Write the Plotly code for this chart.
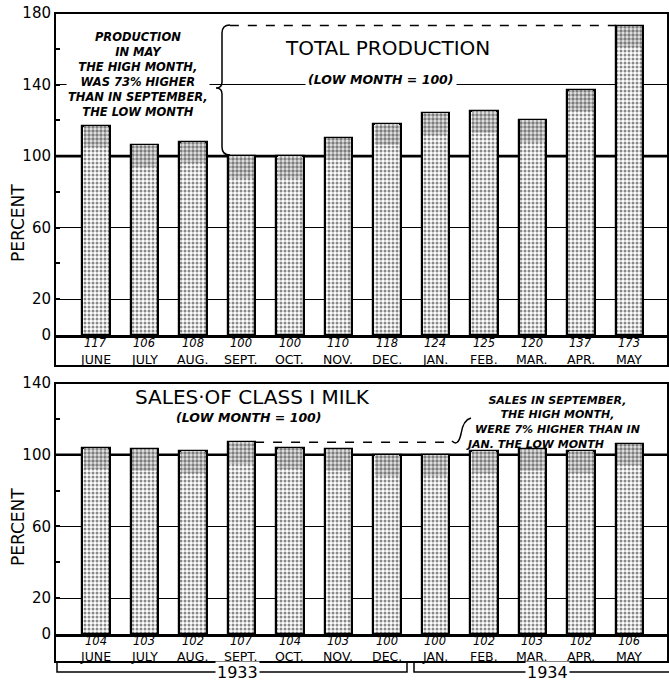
import plotly.graph_objects as go

# ---------------- data ----------------
months = ["JUNE", "JULY", "AUG.", "SEPT.", "OCT.", "NOV.", "DEC.", "JAN.", "FEB.", "MAR.", "APR.", "MAY"]
production = [117, 106, 108, 100, 100, 110, 118, 124, 125, 120, 137, 173]
sales = [104, 103, 102, 107, 104, 103, 100, 100, 102, 103, 102, 106]
prod_ticks = [0, 20, 60, 100, 140, 180]
sales_ticks = [0, 20, 60, 100, 140]
years = ["1933", "1934"]

# ---------------- layout helpers ----------------
W, H = 669, 681
L, R = 55, 668
FONT = "DejaVu Sans"


def px(x):
    return (x - L) / (R - L)


def py(y):
    return 1 - y / H


def path(pts_cmds):
    out = []
    for c in pts_cmds:
        if isinstance(c, str):
            out.append(c)
        else:
            out.append(f"{px(c[0]):.5f},{py(c[1]):.5f}")
    return " ".join(out)


xs = list(range(len(months)))
fig = go.Figure()
pat_body = dict(shape=".", fgcolor="#111111", bgcolor="white", size=4, solidity=0.45)
pat_top = dict(shape=".", fgcolor="#111111", bgcolor="#e6e6e6", size=4, solidity=0.55)
CAP = 12  # depth of the darker stipple band at each bar's top (style only)
for vals, xa, ya in [(production, "x", "y"), (sales, "x2", "y2")]:
    fig.add_trace(go.Bar(
        x=xs, y=vals, xaxis=xa, yaxis=ya, width=0.56,
        marker=dict(color="white", pattern=pat_body, line=dict(color="black", width=2.2)),
        showlegend=False, hoverinfo="skip"))
    fig.add_trace(go.Bar(
        x=xs, y=[CAP] * len(vals), base=[v - CAP for v in vals], xaxis=xa, yaxis=ya, width=0.51,
        marker=dict(color="#bbb", pattern=pat_top, line=dict(width=0)),
        showlegend=False, hoverinfo="skip"))

xrange = [-0.845, 11.794]
xcommon = dict(range=xrange, showticklabels=False, showgrid=False, zeroline=False,
               showline=True, linecolor="black", linewidth=2.5, ticks="", fixedrange=True,
               automargin=False)
ycommon = dict(ticks="inside", ticklen=5, tickwidth=1.5, tickcolor="black",
               minor=dict(dtick=20, tick0=0, ticks="inside", ticklen=5, tickwidth=1.5,
                          tickcolor="black", showgrid=False),
               showgrid=True, gridcolor="black", gridwidth=1.3, zeroline=False,
               showline=False, tickfont=dict(family=FONT, size=15, color="black"),
               ticklabelstandoff=3, fixedrange=True, automargin=False)

fig.update_layout(
    width=W, height=H, autosize=False,
    margin=dict(l=L, r=W - R, t=0, b=0, pad=0, autoexpand=False),
    paper_bgcolor="white", plot_bgcolor="white",
    barmode="overlay", bargap=0,
    xaxis=dict(domain=[0, 1], anchor="y", **xcommon),
    yaxis=dict(domain=[py(335), py(13)], range=[0, 180], tickvals=prod_ticks, anchor="x", **ycommon),
    xaxis2=dict(domain=[0, 1], anchor="y2", **xcommon),
    yaxis2=dict(domain=[py(634), py(383)], range=[0, 140], tickvals=sales_ticks, anchor="x2", **ycommon),
)

shapes = []
# thick 100 lines
for ya in ["y", "y2"]:
    shapes.append(dict(type="line", xref="paper", yref=ya, x0=0, x1=1, y0=100, y1=100,
                       layer="between", line=dict(color="black", width=2.6)))
# frames
shapes.append(dict(type="rect", xref="paper", yref="paper", x0=px(55), x1=px(668), y0=py(366), y1=py(13),
                   line=dict(color="black", width=2)))
shapes.append(dict(type="rect", xref="paper", yref="paper", x0=px(55), x1=px(668), y0=py(662), y1=py(383),
                   line=dict(color="black", width=2)))
# top brace
shapes.append(dict(type="path", xref="paper", yref="paper",
                   path=path(["M", (230, 25), "Q", (222, 25), (222, 33), "L", (222, 82), "Q", (222, 88), (216, 88),
                              "Q", (222, 88), (222, 94), "L", (222, 147), "Q", (222, 155), (230, 155)]),
                   line=dict(color="black", width=1.5)))
# top dashed line at the high month
hi_p = max(production)
shapes.append(dict(type="line", xref="x", yref="y", x0=2.76, x1=production.index(hi_p) - 0.28,
                   y0=hi_p, y1=hi_p, line=dict(color="black", width=1.5, dash="dash")))
# bottom dashed line
hi_s = max(sales)
shapes.append(dict(type="line", xref="x2", yref="y2", x0=sales.index(hi_s) + 0.28, x1=7.34,
                   y0=hi_s, y1=hi_s, line=dict(color="black", width=1.5, dash="dash")))
shapes.append(dict(type="path", xref="paper", yref="paper",
                   path=path(["M", (452, 441), "Q", (458, 447), (461, 434), "Q", (463, 420), (471, 418)]),
                   line=dict(color="black", width=1.5)))
# year brackets
shapes.append(dict(type="path", xref="paper", yref="paper",
                   path=path(["M", (57, 662), "L", (57, 672), "L", (407, 672), "L", (407, 662)]),
                   line=dict(color="black", width=1.5)))
shapes.append(dict(type="path", xref="paper", yref="paper",
                   path=path(["M", (414, 662), "L", (414, 672), "L", (669, 672)]),
                   line=dict(color="black", width=1.5)))
fig.update_layout(shapes=shapes)

ann = []


def A(x, y, text, size=12, **kw):
    d = dict(x=px(x), y=py(y), xref="paper", yref="paper", text=text, showarrow=False,
             xanchor="center", yanchor="middle", font=dict(family=FONT, size=size, color="black"))
    d.update(kw)
    ann.append(d)


# value and month labels under bars
for xa, vals, yn, ym in [("x", production, 343, 359), ("x2", sales, 641, 656)]:
    for i, (m, v) in enumerate(zip(months, vals)):
        ann.append(dict(x=i, xref=xa, y=py(yn), yref="paper", text=f"<i>{v}</i>", showarrow=False,
                        font=dict(family=FONT, size=11.5, color="black"), xanchor="center", yanchor="middle"))
        ann.append(dict(x=i, xref=xa, y=py(ym), yref="paper", text=m, showarrow=False,
                        font=dict(family=FONT, size=12.5, color="black"), xanchor="center", yanchor="middle"))

# year labels
A(237, 672, years[0], 16, bgcolor="white", borderpad=1)
A(547, 672, years[1], 16, bgcolor="white", borderpad=1)

# PERCENT labels
for yc in [223, 527]:
    A(18, yc, "PERCENT", 17, textangle=-90)

# titles
A(387, 48, "TOTAL PRODUCTION", 20)
A(381, 79, "<b><i>(LOW MONTH = 100)</i></b>", 12.5, bgcolor="white", borderpad=2)
A(252, 397, "SALES·OF CLASS I MILK", 20)
A(249, 417, "<b><i>(LOW MONTH = 100)</i></b>", 12.5)

# notes
A(138, 75, "<b><i>PRODUCTION<br>IN MAY<br>THE HIGH MONTH,<br>WAS 73% HIGHER<br>"
           "THAN IN SEPTEMBER,<br>THE LOW MONTH</i></b>", 11.5, align="center",
  bgcolor="white", borderpad=1)
A(557, 415, "<b><i>SALES IN SEPTEMBER,<br>THE HIGH MONTH,<br>WERE 7% HIGHER THAN IN</i></b>",
  11, align="center")
A(464, 444, "<b><i>JAN. THE LOW MONTH</i></b>", 11, xanchor="left")
fig.update_layout(annotations=ann)

fig.write_html("out.html", config={"displayModeBar": False},
               post_script="document.body.style.margin='0';document.body.style.overflow='hidden';")
